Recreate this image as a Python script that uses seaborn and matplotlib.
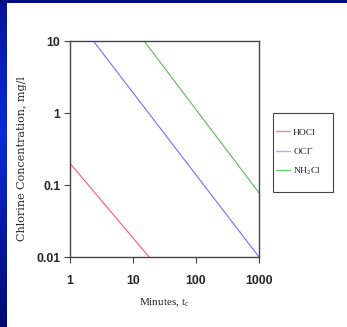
import numpy as np
import pandas as pd
import matplotlib
matplotlib.use("Agg")
import matplotlib.pyplot as plt
import seaborn as sns
from matplotlib.patches import Rectangle

# end points of the three decay lines (log-log straight lines)
species = ["HOCl", "OCl$^{-}$", "NH$_2$Cl"]
t_start = [1, 2.35, 15]
t_end = [18, 1000, 1000]
c_start = [0.2, 10, 10]
c_end = [0.01, 0.01, 0.078]
line_colors = ["#ff5a6e", "#7070ff", "#5cb85c"]

x_ticks = [1, 10, 100, 1000]
x_ticklabels = ["1", "10", "100", "1000"]
y_ticks = [0.01, 0.1, 1, 10]
y_ticklabels = ["0.01", "0.1", "1", "10"]

rows = []
for s, t0, t1, c0, c1 in zip(species, t_start, t_end, c_start, c_end):
    rows.append({"species": s, "t": t0, "c": c0})
    rows.append({"species": s, "t": t1, "c": c1})
df = pd.DataFrame(rows)

sns.set_style("ticks")
plt.rcParams["font.family"] = ["Liberation Serif", "DejaVu Serif"]
plt.rcParams["mathtext.fontset"] = "custom"
plt.rcParams["mathtext.rm"] = "Liberation Serif"
plt.rcParams["mathtext.it"] = "Liberation Serif:italic"

W, H = 347, 327
fig = plt.figure(figsize=(W / 100, H / 100), dpi=100)
fig.patch.set_facecolor("white")

# slide background strips (left and top)
grad = np.linspace(0, 1, 256).reshape(-1, 1)
strip = fig.add_axes([0, 0, 7 / W, 1])
strip.imshow(np.abs(grad - 0.4), aspect="auto", cmap=matplotlib.colors.LinearSegmentedColormap.from_list(
    "slide", ["#0a2ad8", "#000a70"]))
strip.axis("off")
top = fig.add_axes([0, 1 - 3 / H, 1, 3 / H])
top.set_facecolor("#000e80")
top.set_xticks([]); top.set_yticks([])
for sp in top.spines.values():
    sp.set_visible(False)

ax = fig.add_axes([70 / W, 1 - 257 / H, 189 / W, 216 / H])
sns.lineplot(data=df, x="t", y="c", hue="species", palette=line_colors,
             linewidth=0.8, ax=ax, legend=True)
ax.set_xscale("log")
ax.set_yscale("log")
ax.set_xlim(1, 1000)
ax.set_ylim(0.01, 10)
ax.xaxis.set_minor_locator(matplotlib.ticker.NullLocator())
ax.yaxis.set_minor_locator(matplotlib.ticker.NullLocator())
ax.set_xticks(x_ticks)
ax.set_xticklabels(x_ticklabels)
ax.set_yticks(y_ticks)
ax.set_yticklabels(y_ticklabels)
for lab in ax.get_xticklabels() + ax.get_yticklabels():
    lab.set_fontfamily("Liberation Sans")
    lab.set_fontweight("bold")
    lab.set_fontsize(8.8)
ax.tick_params(axis="both", direction="out", length=4, width=0.8, color="#444444", pad=3)
ax.tick_params(axis="x", pad=9)
for sp in ax.spines.values():
    sp.set_color("#444444")
    sp.set_linewidth(1.0)

ax.set_xlabel("Minutes, t$_c$", fontsize=8, labelpad=7)
ax.set_ylabel("Chlorine Concentration, mg/l", fontsize=8, family=["DejaVu Serif"])
ax.yaxis.set_label_coords(-0.225, 0.455)

# legend box drawn separately (behind the axes), entries placed inside it
fig.add_artist(Rectangle((273 / W, 1 - 192 / H), 60 / W, 79 / H, transform=fig.transFigure,
                         facecolor="white", edgecolor="#444444", linewidth=0.8, zorder=-1))
leg = ax.legend(loc="upper left", bbox_to_anchor=(276 / W, 1 - 128 / H),
                bbox_transform=fig.transFigure, frameon=False, fontsize=6.8,
                handlelength=1.45, handletextpad=0.35, borderpad=0,
                labelspacing=1.0, borderaxespad=0)
leg_colors = ["#ff8090", "#a0b4ff", "#66cc66"]
for h, col in zip(leg.get_lines(), leg_colors):
    h.set_color(col)
    h.set_linewidth(1.0)

fig.savefig("out.png", dpi=100, facecolor="white")
